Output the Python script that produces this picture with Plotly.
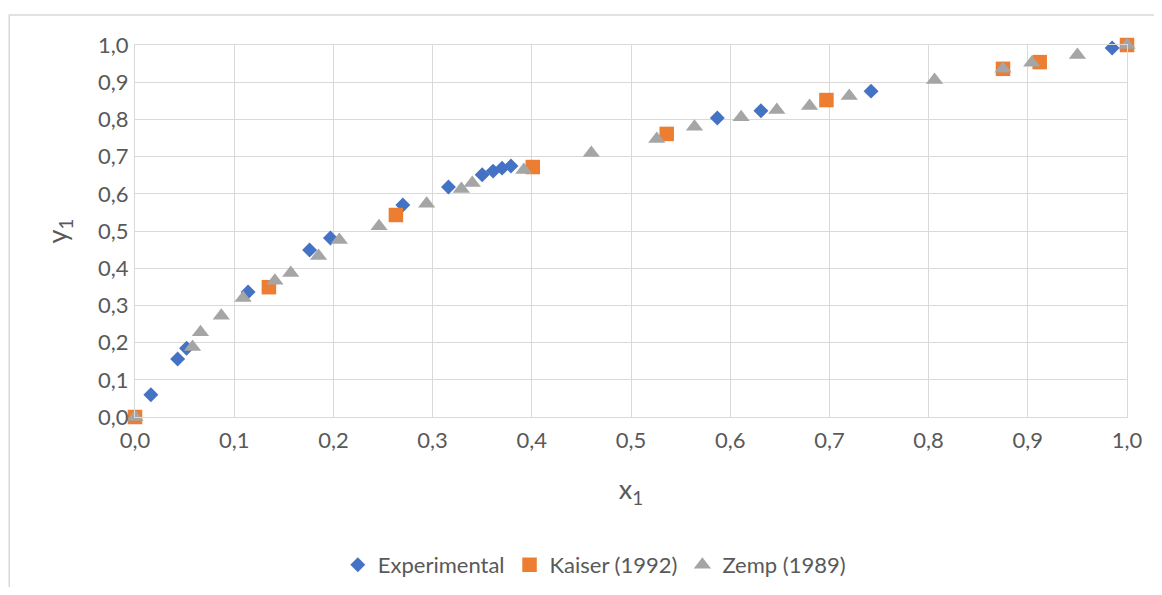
import plotly.graph_objects as go

# data
exp_x = [0.016, 0.043, 0.052, 0.114, 0.176, 0.197, 0.270, 0.316, 0.350, 0.361, 0.370, 0.379,
         0.587, 0.631, 0.742, 0.985]
exp_y = [0.060, 0.156, 0.185, 0.336, 0.449, 0.481, 0.570, 0.618, 0.651, 0.661, 0.669, 0.675,
         0.804, 0.823, 0.876, 0.992]

kaiser_x = [0.0, 0.135, 0.263, 0.401, 0.536, 0.697, 0.875, 0.912, 1.0]
kaiser_y = [0.0, 0.349, 0.543, 0.672, 0.761, 0.852, 0.936, 0.954, 1.0]

zemp_x = [0.0, 0.058, 0.066, 0.087, 0.109, 0.141, 0.157, 0.185, 0.206, 0.246, 0.294, 0.329,
          0.340, 0.392, 0.460, 0.526, 0.564, 0.611, 0.647, 0.680, 0.720, 0.806, 0.875, 0.904,
          0.950, 1.0]
zemp_y = [0.0, 0.188, 0.228, 0.272, 0.320, 0.366, 0.387, 0.433, 0.476, 0.513, 0.573, 0.613,
          0.629, 0.664, 0.710, 0.747, 0.780, 0.806, 0.825, 0.836, 0.863, 0.906, 0.936, 0.952,
          0.973, 1.0]

ticks = [i / 10 for i in range(11)]

font = "Lato, 'Open Sans', sans-serif"
grey_txt = "#595959"
grid = "#d9d9d9"

fig = go.Figure()
fig.add_trace(go.Scatter(x=exp_x, y=exp_y, mode="markers", name="Experimental",
                         marker=dict(symbol="diamond", size=11.5, color="#4472C4"),
                         cliponaxis=False))
fig.add_trace(go.Scatter(x=kaiser_x, y=kaiser_y, mode="markers", name="Kaiser (1992)",
                         marker=dict(symbol="square", size=14.5, color="#ED7D31"),
                         cliponaxis=False))
fig.add_trace(go.Scatter(x=zemp_x, y=zemp_y, mode="markers", name="Zemp (1989)",
                         marker=dict(symbol="triangle-up", size=15, color="#A5A5A5"),
                         cliponaxis=False))

# outer chart frame (runs off the right and bottom edge in the reference)
fig.add_shape(type="rect", xref="paper", yref="paper",
              x0=-0.1268, x1=1.3, y0=-1.0, y1=1.0806,
              line=dict(color=grid, width=1.5), fillcolor="rgba(0,0,0,0)", layer="below")

fig.update_xaxes(range=[0, 1], tickvals=ticks, tickformat=".1f",
                 showgrid=True, gridcolor=grid, gridwidth=1.3,
                 showline=True, linecolor=grid, linewidth=1.3, mirror=True,
                 zeroline=False, ticks="", ticklabelstandoff=3,
                 tickfont=dict(family=font, size=22, color=grey_txt),
                 title=dict(text="x<sub>1</sub>", standoff=28,
                            font=dict(family=font, size=27, color=grey_txt)))
fig.update_yaxes(range=[0, 1], tickvals=ticks, tickformat=".1f",
                 showgrid=True, gridcolor=grid, gridwidth=1.3,
                 showline=True, linecolor=grid, linewidth=1.3, mirror=True,
                 zeroline=False, ticks="", ticklabelstandoff=1,
                 tickfont=dict(family=font, size=22, color=grey_txt),
                 title=dict(text="y<sub>1</sub>", standoff=22,
                            font=dict(family=font, size=27, color=grey_txt)))

# page adds an 8px body margin, so the figure is a bit smaller and shifted
fig.update_layout(
    width=1146, height=579,
    margin=dict(l=127, r=25, t=37, b=170),
    paper_bgcolor="white", plot_bgcolor="white",
    separators=",.",
    showlegend=True,
    legend=dict(orientation="h", x=0.463, xanchor="center",
                yref="container", y=0.038, yanchor="middle",
                font=dict(family=font, size=22, color=grey_txt),
                itemwidth=30, tracegroupgap=0),
    font=dict(family=font, color=grey_txt),
)

fig.write_html("out.html")
